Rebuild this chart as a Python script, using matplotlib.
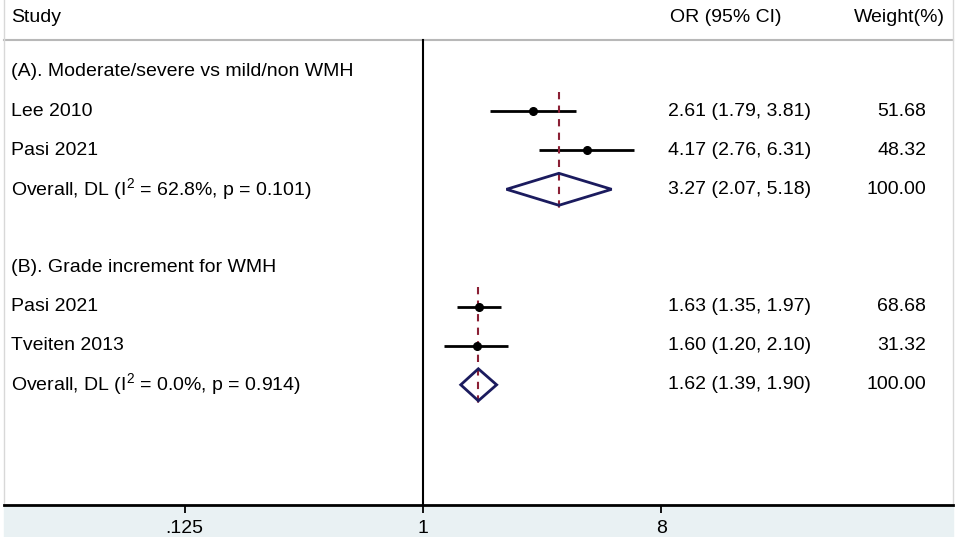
import numpy as np
import matplotlib.pyplot as plt
from matplotlib.patches import Polygon, Rectangle
from matplotlib.transforms import blended_transform_factory

plt.rcParams['font.family'] = ['Liberation Sans', 'DejaVu Sans']
plt.rcParams['mathtext.fontset'] = 'custom'
plt.rcParams['mathtext.rm'] = 'Liberation Sans'

W, H = 957, 537

# rows of the table (1 = first line under the header)
row_labels = ["(A). Moderate/severe vs mild/non WMH",
              "Lee 2010",
              "Pasi 2021",
              "Overall, DL (I$^2$ = 62.8%, p = 0.101)",
              "",
              "(B). Grade increment for WMH",
              "Pasi 2021",
              "Tveiten 2013",
              "Overall, DL (I$^2$ = 0.0%, p = 0.914)"]

study_rows = [2, 3, 7, 8]
study_or = [2.61, 4.17, 1.63, 1.60]
study_lo = [1.79, 2.76, 1.35, 1.20]
study_hi = [3.81, 6.31, 1.97, 2.10]
study_wt = [51.68, 48.32, 68.68, 31.32]

overall_rows = [4, 9]
overall_or = [3.27, 1.62]
overall_lo = [2.07, 1.39]
overall_hi = [5.18, 1.90]
overall_wt = [100.00, 100.00]
group_first = [2, 7]

xticks = [0.125, 1, 8]
xtick_labels = [".125", "1", "8"]

fig = plt.figure(figsize=(W / 100, H / 100), dpi=100)
fig.patch.set_facecolor("white")

# pixel layout
ax_l, ax_r, ax_b = 4, 953, 505
ax = fig.add_axes([ax_l / W, (H - ax_b) / H, (ax_r - ax_l) / W, ax_b / H])
ax.set_zorder(2)
bg = Rectangle((ax_l / W, 0), (ax_r - ax_l) / W, (H - ax_b) / H,
               transform=fig.transFigure, color="#e9f1f3", zorder=-1)
fig.add_artist(bg)

# x: log2 scale, 1 at px 423, 79.5 px per doubling
px_per = 79.5
x0 = 423
ax.set_xscale("log", base=2)
ax.set_xlim(2 ** ((ax_l - x0) / px_per), 2 ** ((ax_r - x0) / px_per))

# y: row r at px 72 + (r-1)*39.1
rh = 39.1
ax.set_ylim(1 + (ax_b - 72) / rh, 1 - 72 / rh)

fs = 14
tx = blended_transform_factory(fig.transFigure, ax.transData)

# header
y_head = 1 - 55 / rh
y_line = 1 - 32 / rh
ax.text(11 / W, y_head, "Study", transform=tx, fontsize=fs, va="center")
ax.text(670 / W, y_head, "OR (95% CI)", transform=tx, fontsize=fs, va="center")
ax.text(945 / W, y_head, "Weight(%)", transform=tx, fontsize=fs, va="center", ha="right")
ax.plot([0, 1], [y_line, y_line], transform=blended_transform_factory(ax.transAxes, ax.transData),
        color="#b8b8b8", lw=1.5, clip_on=False)

for i, lab in enumerate(row_labels):
    ax.text(11 / W, i + 1, lab, transform=tx, fontsize=fs, va="center")

# null line
ax.plot([1, 1], [y_line, ax.get_ylim()[0]], color="black", lw=1.5)

# studies
for r, o, lo, hi, w in zip(study_rows, study_or, study_lo, study_hi, study_wt):
    ax.plot([lo, hi], [r, r], color="black", lw=2, solid_capstyle="butt")
    ax.plot([o], [r], marker="o", color="black", ms=5.5, zorder=4)
    ax.text(668 / W, r, f"{o:.2f} ({lo:.2f}, {hi:.2f})", transform=tx, fontsize=fs, va="center")
    ax.text(926 / W, r, f"{w:.2f}", transform=tx, fontsize=fs, va="center", ha="right")

# overall diamonds
for r, o, lo, hi, w, g in zip(overall_rows, overall_or, overall_lo, overall_hi, overall_wt, group_first):
    dh = 16 / rh
    ax.add_patch(Polygon([[lo, r], [o, r - dh], [hi, r], [o, r + dh]], closed=True,
                         fill=False, edgecolor="#1b1b5e", lw=2, zorder=3))
    ax.plot([o, o], [g - 0.5, r + 0.5], color="#8b2035", lw=1.5, ls=(0, (3.5, 3)), zorder=2)
    ax.text(668 / W, r, f"{o:.2f} ({lo:.2f}, {hi:.2f})", transform=tx, fontsize=fs, va="center")
    ax.text(926 / W, r, f"{w:.2f}", transform=tx, fontsize=fs, va="center", ha="right")

ax.set_xticks(xticks)
ax.set_xticklabels(xtick_labels, fontsize=fs)
ax.xaxis.set_minor_locator(plt.NullLocator())
ax.tick_params(axis="x", direction="out", length=6, width=1.3, pad=5)
ax.set_yticks([])
ax.spines["top"].set_visible(False)
for s in ["left", "right"]:
    ax.spines[s].set_color("#d8d8d8")
    ax.spines[s].set_linewidth(1)
ax.spines["bottom"].set_linewidth(2)

fig.savefig("out.png", dpi=100)
